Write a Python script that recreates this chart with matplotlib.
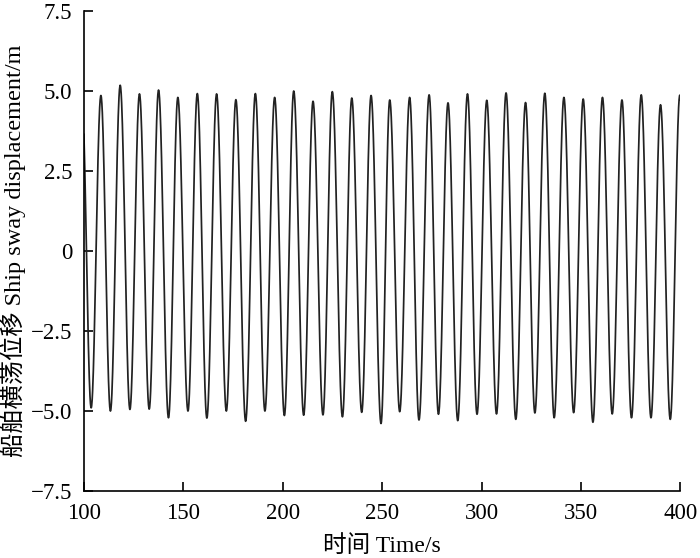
import numpy as np
import matplotlib
matplotlib.use("Agg")
import matplotlib.pyplot as plt

# Extrema of the sway record (time s, displacement m)
peak_t = [98.9, 108.5, 118.2, 127.9, 137.5, 147.2, 157.0, 166.7, 176.4, 186.2, 195.9,
          205.5, 215.2, 224.9, 234.7, 244.4, 253.8, 263.8, 273.6, 283.1, 292.9,
          302.6, 312.3, 322.1, 331.8, 341.4, 351.1, 360.8, 370.6, 380.3, 390.0, 399.7]
peak_v = [4.80, 4.85, 5.17, 4.90, 5.02, 4.79, 4.91, 4.90, 4.72, 4.91, 4.79,
          4.99, 4.67, 4.97, 4.77, 4.85, 4.71, 4.79, 4.87, 4.62, 4.90,
          4.70, 4.93, 4.63, 4.92, 4.79, 4.74, 4.79, 4.71, 4.87, 4.56, 4.86]
trough_t = [103.6, 113.3, 123.1, 132.8, 142.5, 152.3, 161.8, 171.6, 181.3, 191.0,
            200.8, 210.5, 220.2, 230.0, 239.7, 249.4, 258.8, 268.5, 278.3, 288.0,
            297.7, 307.5, 317.2, 326.8, 336.5, 346.3, 356.0, 365.7, 375.4, 385.2, 394.9, 404.5]
trough_v = [-4.91, -5.01, -4.96, -4.95, -5.22, -5.01, -5.23, -5.01, -5.33, -5.01,
            -5.15, -5.14, -5.13, -5.19, -5.05, -5.40, -5.03, -5.29, -5.11, -5.31,
            -5.11, -5.10, -5.27, -5.07, -5.22, -5.06, -5.36, -5.10, -5.22, -5.22, -5.27, -5.20]

xticks = [100, 150, 200, 250, 300, 350, 400]
yticks = [-7.5, -5.0, -2.5, 0, 2.5, 5.0, 7.5]
ytick_labels = ["\u22127.5", "\u22125.0", "\u22122.5", "0", "2.5", "5.0", "7.5"]

# merge extrema in time order and draw half-cosine arcs between them
ext = sorted(list(zip(peak_t, peak_v)) + list(zip(trough_t, trough_v)))
ts, vs = [], []
for (t0, v0), (t1, v1) in zip(ext[:-1], ext[1:]):
    s = np.linspace(0, 1, 40, endpoint=False)
    ts.append(t0 + s * (t1 - t0))
    vs.append((v0 + v1) / 2 + (v0 - v1) / 2 * np.cos(np.pi * s))
ts = np.concatenate(ts)
vs = np.concatenate(vs)

plt.rcParams['font.family'] = ['Liberation Serif', 'Noto Sans CJK SC']
plt.rcParams['axes.unicode_minus'] = True

fig = plt.figure(figsize=(7.0, 5.58), dpi=100)
ax = fig.add_axes([0.12, 0.1206, 0.852, 0.8602])
ax.plot(ts, vs, color='#222222', lw=1.25, solid_joinstyle='round')
ax.set_xlim(100, 400)
ax.set_ylim(-7.5, 7.5)
ax.set_xticks(xticks)
ax.set_yticks(yticks)
ax.set_yticklabels(ytick_labels)
for s in ['top', 'right']:
    ax.spines[s].set_visible(False)
for s in ['left', 'bottom']:
    ax.spines[s].set_linewidth(1.2)
ax.tick_params(direction='in', length=6.5, width=1.2, labelsize=16.5, pad=8.5)
ax.set_xlabel('时间 Time/s', fontsize=17)
ax.set_ylabel('船舶横荡位移 Ship sway displacement/m', fontsize=17.5)
ax.xaxis.set_label_coords(0.5, -0.092)
ax.yaxis.set_label_coords(-0.097, 0.50)
fig.savefig('out.png', dpi=100)
